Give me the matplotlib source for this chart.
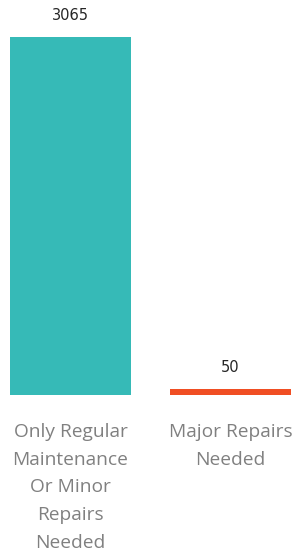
import matplotlib
matplotlib.use("Agg")
import matplotlib.pyplot as plt

categories = ["Only Regular\nMaintenance\nOr Minor\nRepairs\nNeeded", "Major Repairs\nNeeded"]
values = [3065, 50]
colors = ["#36BAB7", "#F04E23"]

W, H = 298, 557
fig = plt.figure(figsize=(W / 100, H / 100), dpi=100)
# bars span px 10..291, baseline at y=395, tallest top at y=37
ax = fig.add_axes([10 / W, (H - 395) / H, 281 / W, (395 - 37) / H])
x = range(len(values))
ax.bar(x, values, width=0.756, color=colors)
ax.set_xlim(-0.378, 1.378)
ax.set_ylim(0, max(values))
ax.axis("off")

for xi, v in zip(x, values):
    ax.annotate(str(v), (xi, v), xytext=(0, 10), textcoords="offset points",
                ha="center", va="bottom", fontsize=10.5, color="#262626",
                family="DejaVu Sans")
    ax.annotate(categories[xi], (xi, 0), xytext=(0, -20), textcoords="offset points",
                ha="center", va="top", fontsize=13.8, color="#808080",
                family="Open Sans", linespacing=1.7)

fig.savefig("out.png", dpi=100)
